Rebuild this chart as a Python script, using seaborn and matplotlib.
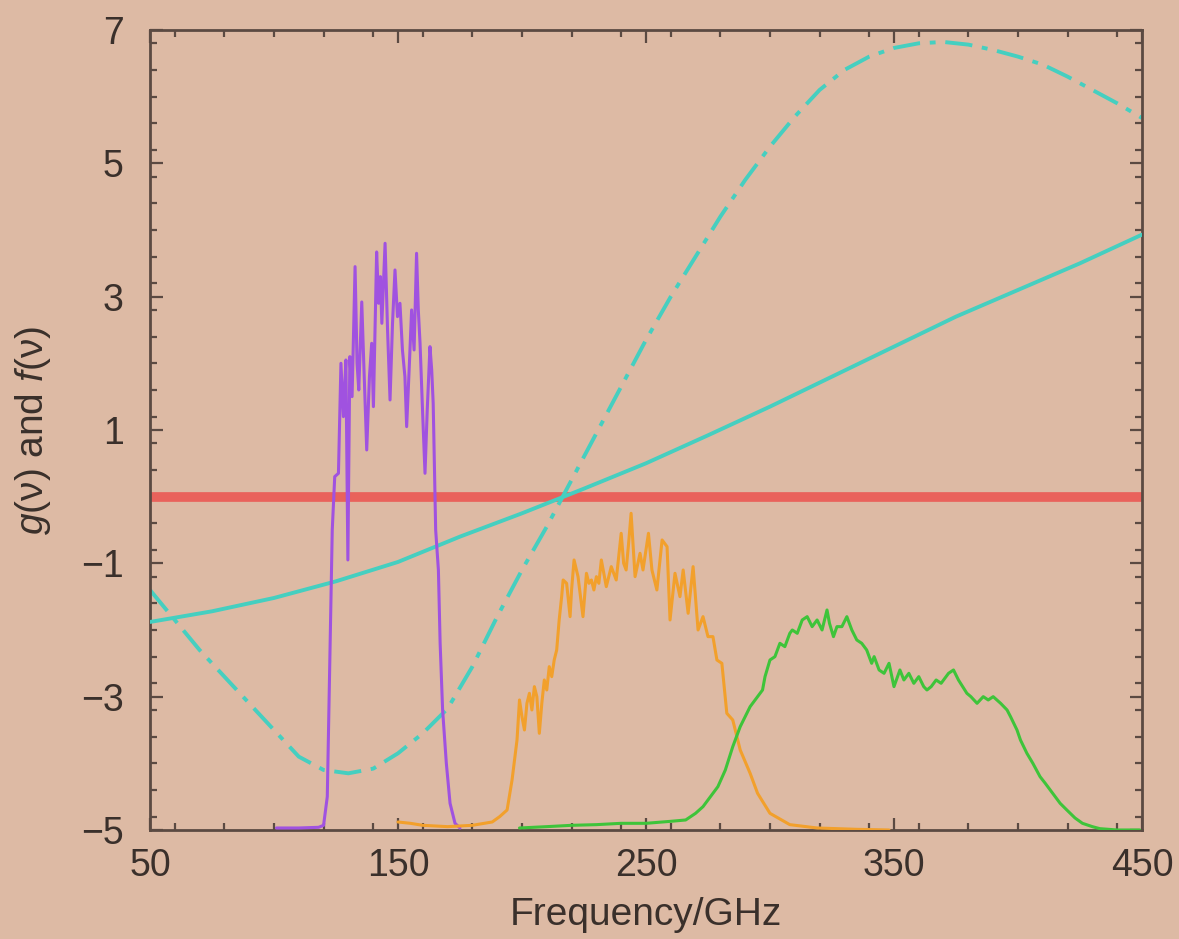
import numpy as np
import pandas as pd
import matplotlib
matplotlib.use("Agg")
import matplotlib.pyplot as plt
from matplotlib.ticker import MultipleLocator
import seaborn as sns

# ---------------- data ----------------
f_x = [50, 75, 100, 125, 150, 175, 200, 225, 250, 275, 300, 325, 350, 375, 400, 425, 450]
f_y = [-1.88, -1.72, -1.52, -1.27, -0.98, -0.6, -0.25, 0.12, 0.5, 0.92, 1.35, 1.8, 2.25, 2.7, 3.1, 3.5, 3.93]

g_x = [50, 60, 70, 80, 90, 100, 110, 120, 130, 140, 150, 160, 170, 180, 190, 200, 210, 220,
       230, 240, 250, 260, 270, 280, 290, 300, 310, 320, 330, 340, 350, 360, 370, 380, 390,
       400, 410, 420, 430, 440, 450]
g_y = [-1.4, -1.85, -2.3, -2.7, -3.1, -3.5, -3.9, -4.1, -4.15, -4.08, -3.85, -3.55, -3.18,
       -2.55, -1.8, -1.1, -0.45, 0.25, 0.95, 1.65, 2.35, 3.0, 3.6, 4.2, 4.75, 5.25, 5.7, 6.1,
       6.4, 6.6, 6.73, 6.8, 6.82, 6.78, 6.7, 6.6, 6.48, 6.3, 6.1, 5.9, 5.68]

zero_x = [50, 450]
zero_y = [0, 0]

purple_x = [101, 110, 118, 120, 121.5, 122.5, 123.5, 124.5, 126, 127, 128, 129, 129.8, 130.6,
            131.5, 132.7, 133.5, 134.2, 135.4, 136.3, 137.4, 138.5, 139.4, 140.1, 141.4, 142.2,
            142.9, 143.5, 144.8, 145.8, 146.8, 147.8, 148.8, 149.8, 150.8, 151.8, 152.8, 153.5,
            154.5, 155.5, 156.5, 157.5, 158.2, 158.9, 160, 160.9, 161.8, 162.9, 163.6, 164.2,
            165.2, 166.3, 167.0, 168, 169.5, 171, 173, 175]
purple_y = [-4.97, -4.97, -4.96, -4.93, -4.5, -2.5, -0.5, 0.3, 0.35, 2.0, 1.2, 2.05, -0.95, 2.1,
            1.5, 3.45, 2.0, 1.6, 2.92, 1.9, 0.7, 1.8, 2.3, 1.35, 3.67, 2.9,
            3.3, 2.6, 3.8, 2.5, 1.45, 2.6, 3.4, 2.7, 2.9, 2.2, 1.8, 1.05,
            1.9, 2.8, 2.2, 3.65, 2.8, 2.3, 1.2, 0.35, 1.3, 2.25, 1.9, 1.4,
            -0.5, -1.1, -2.2, -3.2, -4.0, -4.6, -4.9, -4.97]

orange_x = [150, 155, 160, 170, 180, 188, 191, 194, 196, 198, 199, 200, 201, 202, 203, 204, 205,
            206, 207, 208, 209, 210, 211, 212, 213, 214, 215, 216, 216.6, 218, 219.4, 220, 221,
            222.6, 224.6, 226, 227, 228, 229, 230, 231, 232, 234, 236, 238, 240, 241, 242, 243,
            244, 245.6, 247.6, 248.8, 251, 252.4, 254.4, 256.5, 258.5, 259.7, 261.7, 263.7, 265,
            267, 269, 271, 273, 275, 277, 278.6, 280.6, 282.6, 285, 288, 292, 295, 300, 308, 319,
            335, 348]
orange_y = [-4.88, -4.9, -4.93, -4.95, -4.93, -4.88, -4.8, -4.7, -4.25, -3.65, -3.05, -3.3, -3.5,
            -3.1, -2.95, -3.2, -2.85, -3.0, -3.55, -3.1, -2.75, -2.9, -2.55, -2.7, -2.45, -2.3,
            -1.85, -1.5, -1.25, -1.3, -1.8, -1.4, -0.95, -1.2, -1.8, -1.15, -1.3, -1.25, -1.4,
            -1.2, -1.3, -0.95, -1.35, -1.05, -1.25, -0.55, -1.0, -1.1, -0.7, -0.25, -1.2, -0.85,
            -1.1, -0.55, -1.1, -1.4, -0.65, -0.75, -1.85, -1.15, -1.5, -1.1, -1.75, -1.05, -2.0,
            -1.8, -2.1, -2.1, -2.45, -2.5, -3.25, -3.35, -3.8, -4.15, -4.45, -4.75, -4.92, -4.97,
            -4.99, -5.0]

green_x = [199, 210, 220, 230, 240, 250, 260, 266, 270, 273, 276, 279, 282, 285, 288, 292, 294,
           297, 298, 300, 302, 304, 306, 308, 309, 311, 313, 315, 317, 319, 321, 323, 324, 325.6,
           327, 329, 331, 333, 335, 337, 339, 341, 342, 344, 346, 348, 350, 352.4, 354, 356, 358,
           360, 362, 363.3, 365, 367, 369, 372, 374, 376, 379.4, 381, 383.5, 386, 388, 390, 393,
           395.6, 397, 399.6, 401, 403.6, 406, 408.9, 411, 414, 417, 419.7, 423, 426, 430, 433,
           440, 449]
green_y = [-4.97, -4.95, -4.93, -4.92, -4.9, -4.9, -4.87, -4.85, -4.75, -4.65, -4.5, -4.35, -4.1,
           -3.75, -3.45, -3.15, -3.05, -2.9, -2.7, -2.45, -2.4, -2.2, -2.25, -2.05, -2.0, -2.05,
           -1.85, -1.8, -1.95, -1.85, -2.0, -1.7, -1.9, -2.1, -1.95, -1.95, -1.8, -2.0, -2.15,
           -2.2, -2.3, -2.5, -2.4, -2.6, -2.65, -2.5, -2.85, -2.6, -2.75, -2.65, -2.8, -2.7,
           -2.85, -2.9, -2.85, -2.75, -2.8, -2.65, -2.6, -2.75, -2.95, -3.0, -3.1, -3.0, -3.05,
           -3.0, -3.1, -3.2, -3.3, -3.5, -3.65, -3.85, -4.0, -4.2, -4.3, -4.45, -4.6, -4.7,
           -4.82, -4.9, -4.95, -4.98, -5.0, -5.0]

x_ticks = [50, 150, 250, 350, 450]
y_ticks = [-5, -3, -1, 1, 3, 5, 7]
y_tick_labels = ["\u22125", "\u22123", "\u22121", "1", "3", "5", "7"]

# ---------------- style ----------------
BG = "#ddbaa4"
EDGE = "#5b4a42"
TXT = "#3a302b"
sns.set_theme(style="ticks")
plt.rcParams["font.family"] = ["Liberation Sans", "DejaVu Sans"]
plt.rcParams["mathtext.fontset"] = "custom"
plt.rcParams["mathtext.it"] = "Liberation Sans:italic"
plt.rcParams["mathtext.rm"] = "Liberation Sans"

fig = plt.figure(figsize=(11.79, 9.39), dpi=100, facecolor=BG)
ax = fig.add_axes([0.1272, 0.1161, 0.8414, 0.852])
ax.set_facecolor(BG)

def draw(x, y, color, lw, ls="-", z=2):
    df = pd.DataFrame({"x": x, "y": y})
    sns.lineplot(data=df, x="x", y="y", ax=ax, color=color, lw=lw, linestyle=ls,
                 estimator=None, sort=False, zorder=z)

draw(zero_x, zero_y, "#e9625b", 7, z=1)
draw(g_x, g_y, "#45cfc0", 2.8, ls=(0, (7, 2.5, 1.5, 2.5)), z=2)
draw(f_x, f_y, "#45cfc0", 2.8, z=3)
draw(purple_x, purple_y, "#a052e0", 2.2, z=4)
draw(orange_x, orange_y, "#f2a02c", 2.2, z=4)
draw(green_x, green_y, "#3ec43a", 2.2, z=4)

ax.set_xlim(50, 450)
ax.set_ylim(-5, 7)
ax.set_xticks(x_ticks)
ax.set_xticklabels([str(t) for t in x_ticks])
ax.set_yticks(y_ticks)
ax.set_yticklabels(y_tick_labels)
ax.xaxis.set_minor_locator(MultipleLocator(20))
ax.yaxis.set_minor_locator(MultipleLocator(0.4))
ax.tick_params(which="both", direction="in", top=True, right=True, color=EDGE, width=1.6)
ax.tick_params(which="major", length=9)
ax.tick_params(which="minor", length=5)
ax.tick_params(axis="x", which="major", labelsize=27, pad=13, labelcolor=TXT)
ax.tick_params(axis="y", which="major", labelsize=27, pad=19, labelcolor=TXT)
for s in ax.spines.values():
    s.set_color(EDGE)
    s.set_linewidth(2)
    s.set_visible(True)

ax.set_xlabel("Frequency/GHz", fontsize=28, color=TXT)
ax.set_ylabel("$g$(\u03bd) and $f$(\u03bd)", fontsize=28, color=TXT)
ax.xaxis.set_label_coords(0.5, -0.084)
ax.yaxis.set_label_coords(-0.098, 0.5)

fig.savefig("out.png", dpi=100, facecolor=BG)
